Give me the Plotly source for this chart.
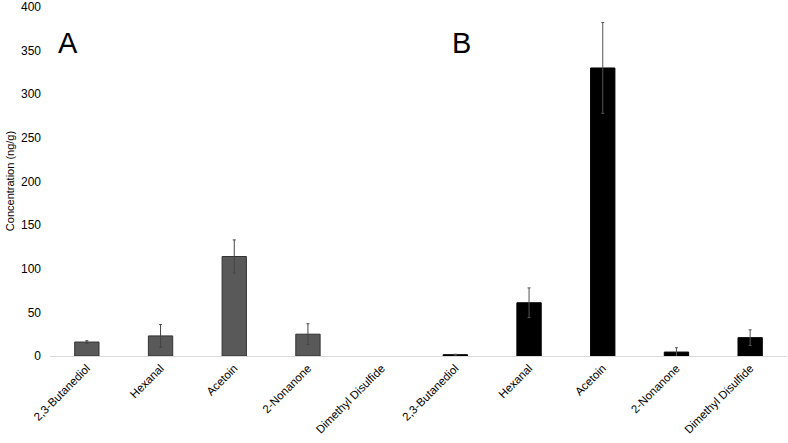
import plotly.graph_objects as go

compounds = ["2,3-Butanediol", "Hexanal", "Acetoin", "2-Nonanone", "Dimethyl Disulfide"]
values_a = [16, 23, 114, 25, 0]
errors_a = [1.5, 13, 19, 12, 0]
values_b = [1.5, 61, 330, 4.5, 21]
errors_b = [0.5, 17, 52, 5, 9]
y_ticks = [0, 50, 100, 150, 200, 250, 300, 350, 400]

n = len(compounds)
x_a = list(range(n))
x_b = list(range(n, 2 * n))
# compounds not detected (0) are drawn as empty slots
vals_a_shown = [v if v > 0 else None for v in values_a]
err_a_shown = [e if v > 0 else None for v, e in zip(values_a, errors_a)]

fig = go.Figure()
fig.add_trace(go.Bar(
    x=x_a, y=vals_a_shown, width=0.33,
    marker=dict(color="#595959", line=dict(color="#333333", width=1)),
    error_y=dict(type="data", array=err_a_shown, visible=True, color="#444444", thickness=1, width=1.5),
    showlegend=False,
))
fig.add_trace(go.Bar(
    x=x_b, y=values_b, width=0.33,
    marker=dict(color="#000000", line=dict(color="#000000", width=1)),
    error_y=dict(type="data", array=errors_b, visible=True, color="#555555", thickness=1, width=1.5),
    showlegend=False,
))

font_family = "Liberation Sans, Arial, sans-serif"
fig.update_layout(
    width=788, height=443,
    margin=dict(l=50, r=1, t=6, b=87),
    paper_bgcolor="white", plot_bgcolor="white",
    font=dict(family=font_family, color="#000000"),
    xaxis=dict(
        tickmode="array", tickvals=x_a + x_b, ticktext=compounds + compounds,
        tickangle=-45, tickfont=dict(size=11.5, color="#000000"),
        range=[-0.5, 2 * n - 0.5], showgrid=False, showline=True,
        linecolor="#d9d9d9", linewidth=1, ticks="", zeroline=False,
    ),
    yaxis=dict(
        range=[0, 401], tickvals=y_ticks, showgrid=False, zeroline=False,
        showline=False, ticks="", tickfont=dict(size=12, color="#000000"),
        ticklabelstandoff=8,
        title=dict(text="Concentration (ng/g)", font=dict(size=11, color="#000000"), standoff=4),
    ),
    annotations=[
        dict(text="A", x=0.025, y=0.894, xref="paper", yref="paper", showarrow=False,
             font=dict(size=29, color="#000000", family=font_family), xanchor="center", yanchor="middle"),
        dict(text="B", x=0.559, y=0.894, xref="paper", yref="paper", showarrow=False,
             font=dict(size=29, color="#000000", family=font_family), xanchor="center", yanchor="middle"),
    ],
)

fig.write_html("out.html")
